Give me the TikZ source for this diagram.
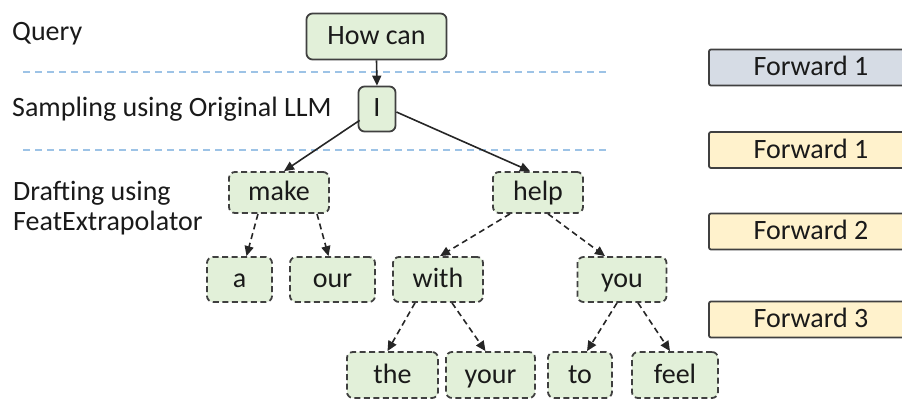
\documentclass[tikz,border=0pt]{standalone}
\usepackage{fontspec}
\setmainfont{Carlito}
\usetikzlibrary{arrows.meta,calc}
\definecolor{tokfill}{HTML}{E2F0D9}
\definecolor{fwdfill}{HTML}{FFF2CC}
\definecolor{fwdgray}{HTML}{D6DCE5}
\definecolor{edgecol}{HTML}{404040}
\definecolor{sepblue}{HTML}{9DC3E6}
\definecolor{txt}{HTML}{1A1A1A}
\begin{document}
\begin{tikzpicture}[x=1pt,y=-1pt,
  every node/.style={font=\fontsize{28}{32}\selectfont, text=txt, inner sep=0pt},
  boxtext/.style={text height=20pt, text depth=4pt},
  tok/.style={boxtext, draw=edgecol, line width=1.8pt, fill=tokfill, rounded corners=6pt},
  drafttok/.style={tok, dashed, dash pattern=on 6pt off 3.5pt},
  fwd/.style={draw=edgecol, line width=1.8pt, fill=fwdfill, rounded corners=2pt, minimum width=200pt, minimum height=36pt},
  sep/.style={draw=sepblue, line width=1.5pt, dash pattern=on 7pt off 5pt},
  link/.style={draw=black!85, line width=1.6pt, -{Triangle[length=10pt,width=9pt]}},
  draftlink/.style={link, dash pattern=on 6pt off 4pt},
  lbl/.style={anchor=base west}
]
\useasboundingbox (0,0) rectangle (902,401);

% stage labels
\node[lbl] (q) at (12,41) {Query};
\node[lbl] (s) at (12,117) {Sampling using Original LLM};
\node[lbl] (d1) at (13,200) {Drafting using};
\node[lbl] (d2) at (13,230) {FeatExtrapolator};

% separators
\coordinate (s1a) at (23,72);  \coordinate (s1b) at (608,72);
\coordinate (s2a) at (23,150); \coordinate (s2b) at (610,150);
\draw[sep] (s1a) -- (s1b);
\draw[sep] (s2a) -- (s2b);

% query and sampled token
\node[tok, minimum width=140pt, minimum height=46pt] (howcan) at (376.5,36.5) {How can};
\node[tok, minimum width=37pt, minimum height=45pt] (i) at (377,109) {I};

% drafted tokens, level 1
\node[drafttok, minimum width=100pt, minimum height=41pt] (make) at (279,192.5) {make};
\node[drafttok, minimum width=90pt, minimum height=41pt] (help) at (538,192.5) {help};

% level 2
\node[drafttok, minimum width=65pt, minimum height=45pt] (a) at (239.5,279.5) {a};
\node[drafttok, minimum width=85pt, minimum height=45pt] (our) at (332.5,279.5) {our};
\node[drafttok, minimum width=90pt, minimum height=45pt] (with) at (438,279.5) {with};
\node[drafttok, minimum width=89pt, minimum height=45pt] (you) at (622,279.5) {you};

% level 3
\node[drafttok, minimum width=91pt, minimum height=46pt] (the) at (392.5,375) {the};
\node[drafttok, minimum width=89pt, minimum height=46pt] (your) at (490.5,375) {your};
\node[drafttok, minimum width=64pt, minimum height=46pt] (to) at (580,375) {to};
\node[drafttok, minimum width=86pt, minimum height=46pt] (feel) at (675,375) {feel};

% forward passes
\node[fwd, fill=fwdgray] (f0) at (809,67.5) {};
\node[boxtext] (f0t) at (811,67.5) {Forward 1};
\node[fwd] (f1) at (809,150) {};
\node[boxtext] (f1t) at (811,150) {Forward 1};
\node[fwd] (f2) at (809,231.5) {};
\node[boxtext] (f2t) at (811,231.5) {Forward 2};
\node[fwd] (f3) at (809,319.5) {};
\node[boxtext] (f3t) at (811,319.5) {Forward 3};

% connectors
\draw[link] (howcan.south) -- (i.north);
\draw[link] ($(i.south west)+(2,-12)$) -- ($(make.north)+(5,0)$);
\draw[link] ($(i.east)+(0,3)$) -- ($(help.north)+(-8,0)$);

\draw[draftlink] ($(make.south)+(-21,0)$) -- ($(a.north)+(7,0)$);
\draw[draftlink] ($(make.south)+(38,0)$) -- ($(our.north)+(-4,0)$);
\draw[draftlink] ($(help.south)+(-28,0)$) -- ($(with.north)+(2,0)$);
\draw[draftlink] ($(help.south)+(10,0)$) -- ($(you.north)+(-17,0)$);

\draw[draftlink] ($(with.south)+(-23,0)$) -- ($(the.north)+(-5,0)$);
\draw[draftlink] ($(with.south)+(14,0)$) -- ($(your.north)+(-5,0)$);
\draw[draftlink] ($(you.south)+(-5,0)$) -- ($(to.north)+(7,0)$);
\draw[draftlink] ($(you.south)+(16,0)$) -- ($(feel.north)+(-5,0)$);
\end{tikzpicture}
\end{document}
